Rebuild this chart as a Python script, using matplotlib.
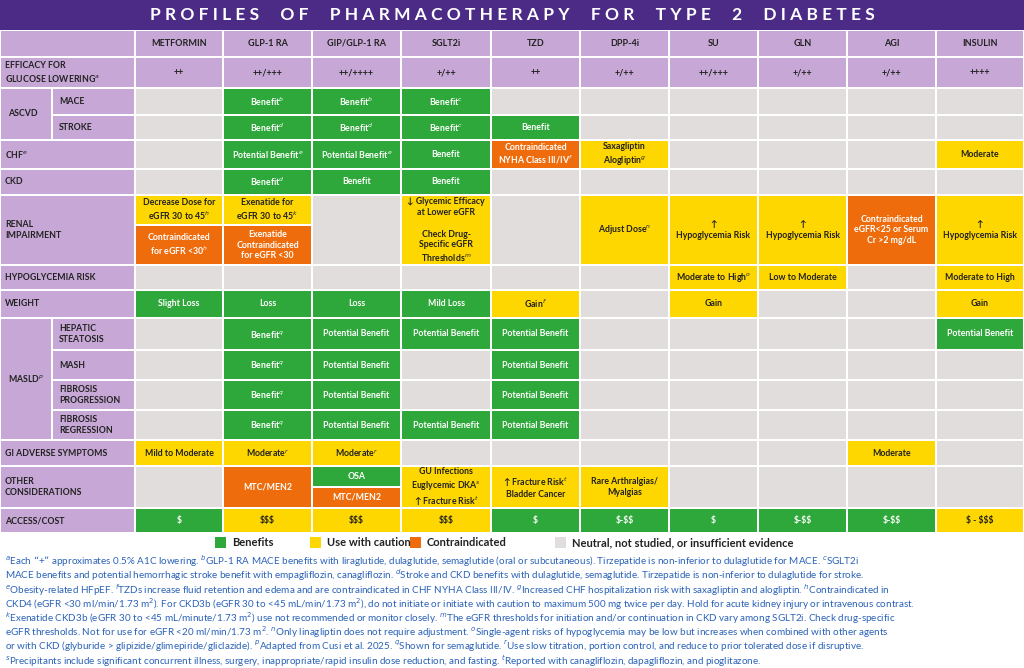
import matplotlib
matplotlib.use("Agg")
import matplotlib.pyplot as plt
from matplotlib.patches import Rectangle

plt.rcParams['font.family'] = ['Lato', 'DejaVu Sans']

title = "PROFILES OF PHARMACOTHERAPY FOR TYPE 2 DIABETES"
drugs = ["METFORMIN", "GLP-1 RA", "GIP/GLP-1 RA", "SGLT2i", "TZD", "DPP-4i", "SU", "GLN", "AGI", "INSULIN"]
efficacy = ["++", "++/+++", "++/++++", "+/++", "++", "+/++", "++/+++", "+/++", "+/++", "++++"]
cost = ["$", "$$$", "$$$", "$$$", "$", "$-$$", "$", "$-$$", "$-$$", "$ - $$$"]

B = "Benefit"
PB = "Potential Benefit"
rows_text = [
    ["", B + "$^{b}$", B + "$^{b}$", B + "$^{c}$", "", "", "", "", "", ""],
    ["", B + "$^{d}$", B + "$^{d}$", B + "$^{c}$", B, "", "", "", "", ""],
    ["", PB + "$^{e}$", PB + "$^{e}$", B, "Contraindicated\nNYHA Class III/IV$^{f}$", "Saxagliptin\nAlogliptin$^{g}$", "", "", "", "Moderate"],
    ["", B + "$^{d}$", B, B, "", "", "", "", "", ""],
    [("Decrease Dose for\neGFR 30 to 45$^{h}$", "Contraindicated\nfor eGFR <30$^{h}$"),
     ("Exenatide for\neGFR 30 to 45$^{k}$", "Exenatide\nContraindicated\nfor eGFR <30"),
     "", "↓ Glycemic Efficacy\nat Lower eGFR\n\nCheck Drug-\nSpecific eGFR\nThresholds$^{m}$", "",
     "Adjust Dose$^{n}$", "↑\nHypoglycemia Risk", "↑\nHypoglycemia Risk",
     "Contraindicated\neGFR<25 or Serum\nCr >2 mg/dL", "↑\nHypoglycemia Risk"],
    ["", "", "", "", "", "", "Moderate to High$^{o}$", "Low to Moderate", "", "Moderate to High"],
    ["Slight Loss", "Loss", "Loss", "Mild Loss", "Gain$^{f}$", "", "Gain", "", "", "Gain"],
    ["", B + "$^{q}$", PB, PB, PB, "", "", "", "", PB],
    ["", B + "$^{q}$", PB, "", PB, "", "", "", "", ""],
    ["", B + "$^{q}$", PB, "", PB, "", "", "", "", ""],
    ["", B + "$^{q}$", PB, PB, PB, "", "", "", "", ""],
    ["Mild to Moderate", "Moderate$^{r}$", "Moderate$^{r}$", "", "", "", "", "", "Moderate", ""],
    ["", "MTC/MEN2", ("OSA", "MTC/MEN2"), "GU Infections\nEuglycemic DKA$^{s}$\n↑ Fracture Risk$^{t}$",
     "↑ Fracture Risk$^{t}$\nBladder Cancer", "Rare Arthralgias/\nMyalgias", "", "", "", ""],
    [c.replace("$", r"\$") for c in cost],
]
rows_color = [
    "NGGGNNNNNN",
    "NGGGGNNNNN",
    "NGGGOYNNNY",
    "NGGGNNNNNN",
    ["YO", "YO", "N", "Y", "N", "Y", "Y", "Y", "O", "Y"],
    "NNNNNNYYNY",
    "GGGGYNYNNY",
    "NGGGGNNNNG",
    "NGGNGNNNNN",
    "NGGNGNNNNN",
    "NGGGGNNNNN",
    "YYYNNNNNYN",
    ["N", "O", "GO", "Y", "Y", "Y", "N", "N", "N", "N"],
    "GYYYGGGGGY",
]
row_labels = ["MACE", "STROKE", "CHF$^{e}$", "CKD", "RENAL\nIMPAIRMENT", "HYPOGLYCEMIA RISK", "WEIGHT",
              "HEPATIC\nSTEATOSIS", "MASH", "FIBROSIS\nPROGRESSION", "FIBROSIS\nREGRESSION",
              "GI ADVERSE SYMPTOMS", "OTHER\nCONSIDERATIONS", "ACCESS/COST"]
legend_items = [("G", "Benefits"), ("Y", "Use with caution"), ("O", "Contraindicated"),
                ("N", "Neutral, not studied, or insufficient evidence")]

COL = {"G": "#2ea83a", "Y": "#ffd700", "O": "#ef6c0c", "N": "#e1dddd"}
TXT = {"G": "white", "Y": "#222222", "O": "white", "N": "#222222"}
PURPLE = "#c7a7d5"
TITLEBG = "#4b2b86"

xe = [135, 223, 312, 401, 491, 580, 669, 758, 847, 936, 1024]
ye = [88, 115, 140, 169, 195, 265, 290, 318, 350, 380, 410, 440, 466, 508, 533]
split = {4: 225, 12: 487}

fig = plt.figure(figsize=(10.24, 6.68), dpi=100)
ax = fig.add_axes([0, 0, 1, 1])
ax.set_xlim(0, 1024)
ax.set_ylim(668, 0)
ax.axis("off")

def cell(x0, y0, x1, y1, c, t="", fs=6.3, tc=None, ha="center", tx=None):
    ax.add_patch(Rectangle((x0 + 0.8, y0 + 0.8), x1 - x0 - 1.6, y1 - y0 - 1.6, color=c, lw=0))
    if t:
        px = (x0 + x1) / 2 if tx is None else tx
        ax.text(px, (y0 + y1) / 2, t, ha=ha, va="center", fontsize=fs, fontweight="bold",
                color=tc or "#222222", linespacing=1.25, ma=ha)

# title
ax.add_patch(Rectangle((0, 0), 1024, 30, color=TITLEBG, lw=0))
ax.text(512, 15, " ".join("  ".join(title.split(" "))), ha="center", va="center",
        fontsize=12.5, fontweight="bold", color="white")

# header
cell(0, 30, 135, 57, PURPLE)
for i, d in enumerate(drugs):
    cell(xe[i], 30, xe[i + 1], 57, PURPLE, d, fs=6.5)
cell(0, 57, 135, 88, PURPLE, "EFFICACY FOR\nGLUCOSE LOWERING$^{a}$", ha="left", tx=5)
for i, e in enumerate(efficacy):
    cell(xe[i], 57, xe[i + 1], 88, PURPLE, e, fs=6.5)

# row labels
cell(0, 88, 52, 140, PURPLE, "ASCVD", ha="left", tx=8)
cell(0, 318, 52, 440, PURPLE, "MASLD$^{p}$", ha="left", tx=8)
for r, lab in enumerate(row_labels):
    y0, y1 = ye[r], ye[r + 1]
    if r in (0, 1) or 7 <= r <= 10:
        cell(52, y0, 135, y1, PURPLE, lab, ha="left", tx=59)
    else:
        cell(0, y0, 135, y1, PURPLE, lab, ha="left", tx=5)

# body
for r in range(len(rows_text)):
    y0, y1 = ye[r], ye[r + 1]
    for i in range(10):
        c = rows_color[r][i]
        t = rows_text[r][i]
        x0, x1 = xe[i], xe[i + 1]
        if len(c) == 2:
            ym = split[r]
            cell(x0, y0, x1, ym, COL[c[0]], t[0], tc=TXT[c[0]])
            cell(x0, ym, x1, y1, COL[c[1]], t[1], tc=TXT[c[1]])
        else:
            cell(x0, y0, x1, y1, COL[c], t, tc=TXT[c])

# legend
lx = [215, 310, 410, 555]
for (c, lab), x in zip(legend_items, lx):
    ax.add_patch(Rectangle((x, 537), 11, 11, color=COL[c], lw=0))
    ax.text(x + 17, 543, lab, va="center", ha="left", fontsize=8, fontweight="bold", color="#222222")

foot = [
    "$^{a}$Each \u201c+\u201d approximates 0.5% A1C lowering. $^{b}$GLP-1 RA MACE benefits with liraglutide, dulaglutide, semaglutide (oral or subcutaneous). Tirzepatide is non-inferior to dulaglutide for MACE. $^{c}$SGLT2i",
    "MACE benefits and potential hemorrhagic stroke benefit with empagliflozin, canagliflozin. $^{d}$Stroke and CKD benefits with dulaglutide, semaglutide. Tirzepatide is non-inferior to dulaglutide for stroke.",
    "$^{e}$Obesity-related HFpEF. $^{f}$TZDs increase fluid retention and edema and are contraindicated in CHF NYHA Class III/IV. $^{g}$Increased CHF hospitalization risk with saxagliptin and alogliptin. $^{h}$Contraindicated in",
    "CKD4 (eGFR <30 ml/min/1.73 m$^{2}$). For CKD3b (eGFR 30 to <45 mL/min/1.73 m$^{2}$), do not initiate or initiate with caution to maximum 500 mg twice per day. Hold for acute kidney injury or intravenous contrast.",
    "$^{k}$Exenatide CKD3b (eGFR 30 to <45 mL/minute/1.73 m$^{2}$) use not recommended or monitor closely. $^{m}$The eGFR thresholds for initiation and/or continuation in CKD vary among SGLT2i. Check drug-specific",
    "eGFR thresholds. Not for use for eGFR <20 ml/min/1.73 m$^{2}$. $^{n}$Only linagliptin does not require adjustment. $^{o}$Single-agent risks of hypoglycemia may be low but increases when combined with other agents",
    "or with CKD (glyburide > glipizide/glimepiride/gliclazide). $^{p}$Adapted from Cusi et al. 2025. $^{q}$Shown for semaglutide. $^{r}$Use slow titration, portion control, and reduce to prior tolerated dose if disruptive.",
    "$^{s}$Precipitants include significant concurrent illness, surgery, inappropriate/rapid insulin dose reduction, and fasting. $^{t}$Reported with canagliflozin, dapagliflozin, and pioglitazone.",
]
for k, line in enumerate(foot):
    ax.text(5, 561 + k * 14.3, line, ha="left", va="center", fontsize=7.1, color="#2a62b8")

fig.savefig("out.png", dpi=100, facecolor="white")
